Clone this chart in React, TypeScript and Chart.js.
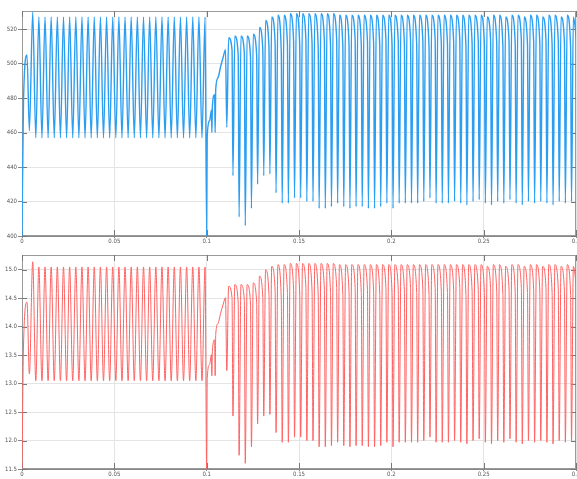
import React, { useEffect, useRef } from "react";
import { Chart, registerables } from "chart.js";
Chart.register(...registerables);

// ---- time base ----
const RIPPLE_PERIOD = 1 / 300; // s, spacing of ripple peaks / spikes
const RIPPLE_FIRST_PEAK = 0.0058;
const CYCLE_START = 0.1109;

// x tick labels
const xTicks = [0, 0.05, 0.1, 0.15, 0.2, 0.25, 0.3];

// ================= TOP (blue) =================
const blueStartT = [0, 0.0008, 0.0027, 0.004, 0.0058];
const blueStartV = [400, 478, 505, 461, 530];
// alternating trough / peak after the first peak, up to t = 0.1
const blueRippleV = [
  457, 527, 457, 527, 457, 527, 457, 527, 457, 527,
  457, 527, 457, 527, 457, 527, 457, 527, 457, 527,
  457, 527, 457, 527, 457, 527, 457, 527, 457, 527,
  457, 527, 457, 527, 457, 527, 457, 527, 457, 527,
  457, 527, 457, 527, 457, 527, 457, 527, 457, 527,
  457, 527, 457, 527, 457, 527,
];
const blueTransT = [0.1, 0.1003, 0.1016, 0.1026, 0.1028, 0.1031, 0.1043, 0.1046, 0.1049, 0.1062, 0.1075, 0.109, 0.1102];
const blueTransV = [400, 458, 467, 473, 460, 475, 482, 460, 485, 492, 498, 504, 508];
const blueSpikeV = [
  463, 435, 411, 406, 416, 430, 435, 436, 425, 419,
  419, 422, 422, 420, 420, 416, 416, 417, 419, 417,
  416, 417, 417, 416, 416, 417, 419, 416, 419, 419,
  419, 419, 420, 422, 419, 419, 419, 420, 419, 418,
  420, 421, 419, 418, 420, 419, 421, 419, 418, 420,
  419, 420, 419, 418, 420, 419, 420,
];
const blueTopV = [
  515, 516, 516, 516, 517, 521, 525, 527, 528, 528,
  529, 529, 529, 529, 529, 529, 529, 529, 528, 528,
  528, 528, 528, 528, 528, 528, 528, 528, 528, 528,
  528, 528, 528, 528, 528, 528, 528, 528, 528, 528,
  528, 528, 527, 528, 528, 527, 528, 528, 527, 528,
  528, 527, 528, 528, 527, 528, 527,
];
const bluePreV = [
  508, 505, 506, 504, 505, 508, 510, 512, 507, 511,
  513, 510, 514, 512, 509, 513, 511, 514, 510, 512,
  514, 511, 513, 512, 510, 514, 511, 513, 512, 514,
  511, 513, 510, 514, 512, 511, 513, 514, 510, 512,
  513, 511, 514, 512, 510, 513, 512, 514, 511, 513,
  512, 514, 511, 513, 512, 510, 513,
];
const blueYTicks = [400, 420, 440, 460, 480, 500, 520];

// ================= BOTTOM (red) =================
const redStartT = [0, 0.0008, 0.0027, 0.004, 0.0058];
const redStartV = [11.45, 13.66, 14.43, 13.17, 15.14];
const redRippleV = [
  13.05, 15.05, 13.05, 15.05, 13.05, 15.05, 13.05, 15.05, 13.05, 15.05,
  13.05, 15.05, 13.05, 15.05, 13.05, 15.05, 13.05, 15.05, 13.05, 15.05,
  13.05, 15.05, 13.05, 15.05, 13.05, 15.05, 13.05, 15.05, 13.05, 15.05,
  13.05, 15.05, 13.05, 15.05, 13.05, 15.05, 13.05, 15.05, 13.05, 15.05,
  13.05, 15.05, 13.05, 15.05, 13.05, 15.05, 13.05, 15.05, 13.05, 15.05,
  13.05, 15.05, 13.05, 15.05, 13.05, 15.05,
];
const redTransT = [0.1, 0.1003, 0.1016, 0.1026, 0.1028, 0.1031, 0.1043, 0.1046, 0.1049, 0.1062, 0.1075, 0.109, 0.1102];
const redTransV = [11.45, 13.09, 13.34, 13.51, 13.14, 13.57, 13.77, 13.14, 13.86, 14.06, 14.23, 14.4, 14.51];
const redSpikeV = [
  13.23, 12.43, 11.74, 11.6, 11.89, 12.29, 12.43, 12.46, 12.14, 11.97,
  11.97, 12.06, 12.06, 12.0, 12.0, 11.89, 11.89, 11.91, 11.97, 11.91,
  11.89, 11.91, 11.91, 11.89, 11.89, 11.91, 11.97, 11.89, 11.97, 11.97,
  11.97, 11.97, 12.0, 12.06, 11.97, 11.97, 11.97, 12.0, 11.97, 11.94,
  12.0, 12.03, 11.97, 11.94, 12.0, 11.97, 12.03, 11.97, 11.94, 12.0,
  11.97, 12.0, 11.97, 11.94, 12.0, 11.97, 12.0,
];
const redTopV = [
  14.71, 14.74, 14.74, 14.74, 14.77, 14.89, 15.0, 15.06, 15.09, 15.09,
  15.11, 15.11, 15.11, 15.11, 15.11, 15.11, 15.11, 15.11, 15.09, 15.09,
  15.09, 15.09, 15.09, 15.09, 15.09, 15.09, 15.09, 15.09, 15.09, 15.09,
  15.09, 15.09, 15.09, 15.09, 15.09, 15.09, 15.09, 15.09, 15.09, 15.09,
  15.09, 15.09, 15.06, 15.09, 15.09, 15.06, 15.09, 15.09, 15.06, 15.09,
  15.09, 15.06, 15.09, 15.09, 15.06, 15.09, 15.06,
];
const redPreV = [
  14.51, 14.43, 14.46, 14.4, 14.43, 14.51, 14.57, 14.63, 14.49, 14.6,
  14.66, 14.57, 14.69, 14.63, 14.54, 14.66, 14.6, 14.69, 14.57, 14.63,
  14.69, 14.6, 14.66, 14.63, 14.57, 14.69, 14.6, 14.66, 14.63, 14.69,
  14.6, 14.66, 14.57, 14.69, 14.63, 14.6, 14.66, 14.69, 14.57, 14.63,
  14.66, 14.6, 14.69, 14.63, 14.57, 14.66, 14.63, 14.69, 14.6, 14.66,
  14.63, 14.69, 14.6, 14.66, 14.63, 14.57, 14.66,
];
const redYTicks = [11.5, 12, 12.5, 13, 13.5, 14, 14.5, 15];

type Pt = { x: number; y: number };

function buildSeries(
  startT: number[], startV: number[], rippleV: number[],
  transT: number[], transV: number[],
  spikeV: number[], topV: number[], preV: number[]
): Pt[] {
  const pts: Pt[] = [];
  startT.forEach((t, i) => pts.push({ x: t, y: startV[i] }));
  rippleV.forEach((v, i) => pts.push({ x: RIPPLE_FIRST_PEAK + ((i + 1) * RIPPLE_PERIOD) / 2, y: v }));
  transT.forEach((t, i) => pts.push({ x: t, y: transV[i] }));
  spikeV.forEach((v, k) => {
    const t0 = CYCLE_START + k * RIPPLE_PERIOD;
    pts.push({ x: t0, y: v });
    pts.push({ x: t0 + 0.3 * RIPPLE_PERIOD, y: topV[k] });
    pts.push({ x: t0 + 0.85 * RIPPLE_PERIOD, y: preV[k] });
  });
  return pts;
}

const FONT = "'Liberation Sans Narrow', 'DejaVu Sans Condensed', 'DejaVu Sans', sans-serif";

const framePlugin = {
  id: "frame",
  beforeDatasetsDraw(chart: any) {
    const { ctx, chartArea: a, scales } = chart;
    ctx.save();
    ctx.strokeStyle = "#9a9a9a";
    ctx.lineWidth = 1;
    ctx.strokeRect(a.left + 0.5, a.top + 0.5, a.right - a.left - 1, a.bottom - a.top - 1);
    ctx.strokeStyle = "#777";
    ctx.beginPath();
    scales.x.ticks.forEach((t: any) => {
      const px = Math.round(scales.x.getPixelForValue(t.value)) + 0.5;
      ctx.moveTo(px, a.bottom);
      ctx.lineTo(px, a.bottom - 6);
      ctx.moveTo(px, a.top);
      ctx.lineTo(px, a.top + 6);
    });
    scales.y.ticks.forEach((t: any) => {
      const py = Math.round(scales.y.getPixelForValue(t.value)) + 0.5;
      ctx.moveTo(a.left, py);
      ctx.lineTo(a.left + 5, py);
      ctx.moveTo(a.right, py);
      ctx.lineTo(a.right - 5, py);
    });
    ctx.stroke();
    ctx.restore();
  },
};

function makeConfig(
  data: Pt[], color: string, width: number,
  yMin: number, yMax: number, yStep: number, yTicks: number[],
  padTop: number, xHeight: number
): any {
  return {
    type: "line",
    data: {
      datasets: [
        {
          data,
          borderColor: color,
          borderWidth: width,
          pointRadius: 0,
          fill: false,
          cubicInterpolationMode: "monotone",
        },
      ],
    },
    options: {
      animation: false,
      responsive: false,
      maintainAspectRatio: false,
      events: [],
      layout: { padding: { top: padTop, right: 1, left: 0, bottom: 0 } },
      plugins: { legend: { display: false }, tooltip: { enabled: false } },
      scales: {
        x: {
          type: "linear",
          min: xTicks[0],
          max: xTicks[xTicks.length - 1],
          afterBuildTicks: (s: any) => {
            s.ticks = xTicks.map((v) => ({ value: v }));
          },
          ticks: {
            callback: (v: any) => String(Math.round(Number(v) * 100) / 100),
            font: { size: 6, family: FONT },
            color: "#555",
            padding: 0,
            maxRotation: 0,
            autoSkip: false,
          },
          grid: { color: "#e4e4e4", tickLength: 2, tickColor: "#888" },
          border: { color: "#888" },
          afterFit: (s: any) => {
            s.height = xHeight;
            s.paddingLeft = 0;
            s.paddingRight = 0;
          },
        },
        y: {
          type: "linear",
          min: yMin,
          max: yMax,
          afterBuildTicks: (s: any) => {
            s.ticks = yTicks.map((v) => ({ value: v }));
          },
          ticks: {
            stepSize: yStep,
            font: { size: 6, family: FONT },
            color: "#555",
            padding: 1,
          },
          grid: { color: "#e4e4e4", tickLength: 4, tickColor: "#888" },
          border: { color: "#888" },
          afterFit: (s: any) => {
            s.width = 22;
            s.paddingTop = 0;
            s.paddingBottom = 0;
          },
        },
      },
    },
    plugins: [framePlugin],
  };
}

function Panel(props: { top: number; height: number; config: any }) {
  const ref = useRef<HTMLCanvasElement | null>(null);
  useEffect(() => {
    if (!ref.current) return;
    const c = new Chart(ref.current, props.config);
    return () => c.destroy();
  }, []);
  return (
    <canvas
      ref={ref}
      width={577}
      height={props.height}
      style={{ position: "absolute", left: 0, top: props.top, width: 577, height: props.height }}
    />
  );
}

export default function App() {
  const blueData = buildSeries(blueStartT, blueStartV, blueRippleV, blueTransT, blueTransV, blueSpikeV, blueTopV, bluePreV);
  const redData = buildSeries(redStartT, redStartV, redRippleV, redTransT, redTransV, redSpikeV, redTopV, redPreV);
  const blueCfg = makeConfig(blueData, "#2b9ef2", 1.4, 400, 530.5, 20, blueYTicks, 11, 12);
  const redCfg = makeConfig(redData, "#ff6262", 1, 11.5, 15.26, 0.5, redYTicks, 7, 10);
  return (
    <div style={{ position: "absolute", left: 0, top: 0, width: 577, height: 479, background: "#fff" }}>
      <Panel top={0} height={248} config={blueCfg} />
      <Panel top={248} height={231} config={redCfg} />
    </div>
  );
}
